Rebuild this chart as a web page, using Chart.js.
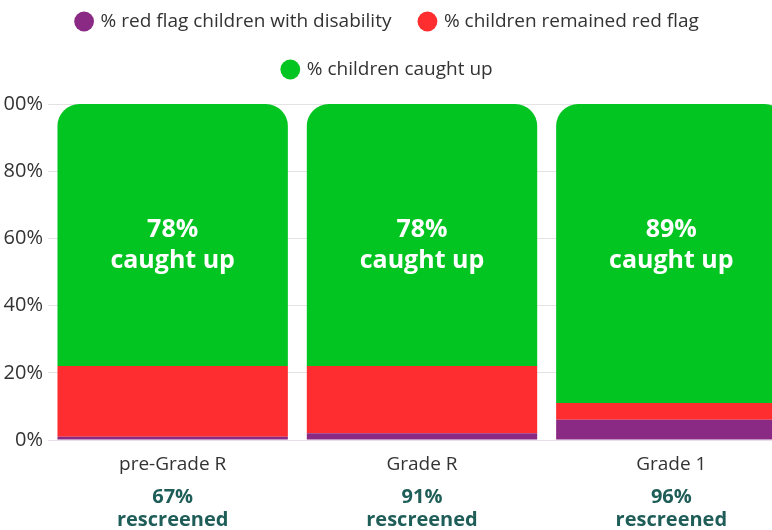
<!DOCTYPE html>
<html>
<head>
<meta charset="utf-8">
<script src="https://cdn.jsdelivr.net/npm/chart.js@4.4.1/dist/chart.umd.min.js"></script>
<style>
  html, body { margin: 0; padding: 0; background: #fff; overflow: hidden; }
  #wrap { position: absolute; left: -20px; top: -17px; width: 816px; height: 547px; }
</style>
</head>
<body>
<div id="wrap"><canvas id="progress-chart"></canvas></div>
<script>
const grades = ['pre-Grade R', 'Grade R', 'Grade 1'];
const disabilityPct = [1, 2, 6];
const redFlagPct = [21, 20, 5];
const caughtUpPct = [78, 78, 89];
const rescreenedPct = [67, 91, 96];
const yTicks = [0, 20, 40, 60, 80, 100];

// extra room between legend and plot
const legendGap = {
  id: 'legendGap',
  afterInit(chart) {
    const lg = chart.legend;
    const fit = lg.fit;
    lg.fit = function () { fit.call(this); this.height += 15; };
  }
};

// white "xx% caught up" text inside the green bars + rescreened notes under the axis
const barNotes = {
  id: 'barNotes',
  afterDatasetsDraw(chart) {
    const ctx = chart.ctx;
    const x = chart.scales.x, y = chart.scales.y;
    ctx.save();
    ctx.textAlign = 'center';
    ctx.textBaseline = 'middle';
    grades.forEach((g, i) => {
      const cx = x.getPixelForValue(i);
      const cy = y.getPixelForValue(58);
      ctx.fillStyle = '#ffffff';
      ctx.font = 'bold 25px "Open Sans"';
      ctx.fillText(caughtUpPct[i] + '%', cx, cy - 15);
      ctx.fillText('caught up', cx, cy + 16);

      ctx.fillStyle = '#1f5d58';
      ctx.font = 'bold 20px "Open Sans"';
      ctx.fillText(rescreenedPct[i] + '%', cx, chart.chartArea.bottom + 57);
      ctx.fillText('rescreened', cx, chart.chartArea.bottom + 80);
    });
    ctx.restore();
  }
};

const ctx = document.getElementById('progress-chart').getContext('2d');
const progressChart = new Chart(ctx, {
  type: 'bar',
  plugins: [legendGap, barNotes],
  data: {
    labels: grades,
    datasets: [{
      label: '% red flag children with disability',
      data: disabilityPct,
      backgroundColor: '#8a2a84'
    }, {
      label: '% children remained red flag',
      data: redFlagPct,
      backgroundColor: '#fe2d30'
    }, {
      label: '% children caught up',
      data: caughtUpPct,
      backgroundColor: '#02c521',
      borderRadius: { topLeft: 22, topRight: 22, bottomLeft: 0, bottomRight: 0 },
      borderSkipped: false
    }]
  },
  options: {
    responsive: true,
    maintainAspectRatio: false,
    animation: false,
    categoryPercentage: 1,
    barPercentage: 0.924,
    layout: { padding: 0 },
    plugins: {
      legend: {
        position: 'top',
        labels: {
          usePointStyle: true,
          pointStyle: 'circle',
          boxWidth: 14,
          boxHeight: 14,
          padding: 29,
          color: '#333',
          font: { family: 'Open Sans', size: 19 }
        }
      },
      tooltip: { enabled: false }
    },
    scales: {
      x: {
        stacked: true,
        grid: { display: false },
        border: { color: '#eadcea' },
        ticks: { color: '#333', font: { family: 'Open Sans', size: 19 }, padding: 5 },
        afterFit: s => { s.height = 90; }
      },
      y: {
        stacked: true,
        min: 0,
        max: 100,
        border: { display: false },
        grid: { color: '#e3e3e3', drawTicks: false },
        afterBuildTicks: s => { s.ticks = yTicks.map(v => ({ value: v })); },
        ticks: {
          color: '#333',
          padding: 5,
          font: { family: 'Open Sans', size: 20 },
          callback: v => v + '%'
        },
        afterFit: s => { s.width = 68; }
      }
    }
  }
});
</script>
</body>
</html>
